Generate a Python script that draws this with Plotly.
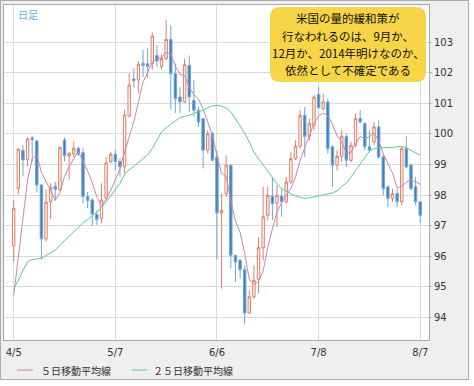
import plotly.graph_objects as go
import pandas as pd

# ---------------- data ----------------
dates = [d.strftime('%Y-%m-%d') for d in pd.bdate_range('2013-04-05', '2013-08-07')]

opens = [96.34, 98.22, 99.46, 99.17, 99.87, 99.77, 98.33, 96.57, 97.79, 98.28,
         98.17, 99.80, 99.28, 99.35, 99.53, 99.39, 97.95, 97.84, 97.37, 97.24,
         97.90, 99.10, 99.34, 99.10, 98.93, 100.59, 101.80, 101.77, 102.31, 102.30,
         102.30, 102.57, 102.21, 102.47, 103.09, 101.97, 101.21, 101.05, 102.25, 101.10,
         100.78, 100.50, 99.47, 100.01, 99.25, 97.42, 98.05, 98.98, 96.03, 95.87,
         95.56, 94.14, 94.67, 95.24, 96.28, 97.34, 97.97, 97.74, 97.97, 97.78,
         98.43, 99.19, 99.60, 100.61, 99.92, 100.28, 101.29, 100.83, 101.05, 99.58,
         98.98, 99.27, 99.92, 99.14, 99.63, 100.50, 100.34, 99.58, 99.74, 100.23,
         99.25, 98.27, 97.89, 98.05, 97.78, 99.52, 98.98, 98.27, 97.78]
highs = [97.84, 99.53, 99.64, 99.89, 99.94, 99.80, 98.36, 98.17, 98.39, 98.44,
         99.59, 99.89, 99.42, 99.75, 99.59, 99.53, 98.11, 97.90, 97.50, 98.39,
         99.24, 99.42, 99.48, 99.21, 100.79, 101.99, 102.15, 102.38, 102.75, 102.80,
         103.32, 102.90, 102.60, 103.72, 103.56, 102.30, 101.54, 102.47, 102.57, 101.76,
         100.88, 100.52, 100.12, 100.07, 99.47, 98.05, 99.30, 98.98, 96.05, 95.92,
         95.70, 94.89, 95.70, 96.63, 98.27, 98.27, 98.59, 98.32, 98.21, 98.59,
         99.41, 99.79, 100.78, 100.88, 100.50, 101.27, 101.54, 101.32, 101.16, 99.63,
         99.47, 100.12, 100.01, 99.74, 100.67, 100.78, 100.39, 100.12, 100.39, 100.45,
         99.36, 98.32, 98.21, 98.21, 99.58, 99.92, 99.03, 98.59, 97.78]
lows = [95.82, 98.04, 98.61, 98.95, 99.10, 98.09, 95.90, 96.48, 97.21, 97.84,
        98.14, 99.10, 98.50, 99.24, 99.28, 97.73, 97.57, 96.99, 97.02, 97.08,
        97.84, 99.04, 98.82, 98.60, 98.71, 100.55, 101.52, 101.33, 101.86, 101.82,
        102.10, 102.20, 102.10, 102.41, 100.80, 100.69, 100.69, 101.02, 100.72, 100.56,
        100.23, 98.87, 99.36, 99.09, 95.90, 94.94, 97.94, 95.60, 95.16, 95.27,
        93.80, 94.12, 94.61, 94.78, 95.87, 97.18, 97.18, 96.96, 97.29, 97.72,
        98.38, 99.14, 99.52, 99.25, 99.79, 100.12, 100.83, 100.78, 99.36, 98.27,
        98.81, 99.08, 98.92, 99.08, 99.58, 100.34, 99.47, 99.40, 99.63, 99.19,
        97.99, 97.61, 97.78, 97.61, 97.67, 98.87, 98.16, 97.67, 97.09]
closes = [97.57, 99.50, 99.15, 99.84, 99.82, 98.33, 96.57, 97.77, 98.25, 98.19,
          99.56, 99.29, 99.37, 99.53, 99.35, 97.95, 97.82, 97.38, 97.20, 97.84,
          99.06, 99.34, 99.10, 98.93, 100.62, 101.60, 101.75, 102.28, 102.24, 102.21,
          103.20, 102.39, 102.47, 103.09, 101.97, 101.16, 101.05, 102.27, 101.21, 100.78,
          100.39, 99.47, 100.01, 99.14, 97.42, 97.50, 98.98, 96.03, 95.81, 95.56,
          94.14, 94.67, 95.21, 96.28, 97.29, 97.99, 97.72, 97.99, 97.78, 98.43,
          99.19, 99.60, 100.61, 99.92, 100.34, 101.21, 100.86, 101.05, 99.52, 98.98,
          99.27, 99.92, 99.14, 99.63, 100.50, 100.39, 99.58, 99.47, 100.23, 99.25,
          98.21, 97.89, 98.05, 97.78, 99.52, 98.92, 98.21, 97.78, 97.34]

ma5 = [94.71, 95.97, 97.12, 98.49, 99.18, 99.33, 98.74, 98.47, 98.15, 97.82,
       98.07, 98.61, 98.93, 99.19, 99.42, 99.10, 98.80, 98.41, 97.94, 97.64,
       97.86, 98.16, 98.51, 98.85, 99.41, 99.92, 100.40, 101.04, 101.70, 102.02,
       102.34, 102.46, 102.50, 102.67, 102.62, 102.22, 101.95, 101.91, 101.53, 101.29,
       101.14, 100.82, 100.37, 99.96, 99.29, 98.71, 98.61, 97.81, 97.15, 96.78,
       96.10, 95.24, 95.08, 95.17, 95.52, 96.29, 96.90, 97.45, 97.75, 97.98,
       98.22, 98.60, 99.12, 99.55, 99.93, 100.34, 100.59, 100.68, 100.60, 100.32,
       99.94, 99.75, 99.37, 99.39, 99.69, 99.92, 99.85, 99.91, 100.03, 99.78,
       99.35, 99.01, 98.73, 98.24, 98.29, 98.43, 98.50, 98.44, 98.35]
ma25 = [94.94, 95.21, 95.54, 95.81, 95.89, 95.91, 95.93, 96.03, 96.11, 96.20,
        96.36, 96.52, 96.66, 96.80, 96.96, 97.09, 97.20, 97.31, 97.45, 97.58,
        97.78, 97.96, 98.16, 98.38, 98.68, 98.83, 98.94, 99.05, 99.19, 99.32,
        99.52, 99.79, 100.07, 100.20, 100.31, 100.43, 100.54, 100.58, 100.61, 100.67,
        100.72, 100.78, 100.86, 100.92, 100.94, 100.91, 100.85, 100.72, 100.50, 100.28,
        100.02, 99.74, 99.41, 99.19, 98.98, 98.76, 98.59, 98.38, 98.21, 98.12,
        98.05, 97.97, 97.92, 97.89, 97.91, 97.94, 97.96, 98.00, 98.03, 98.07,
        98.14, 98.27, 98.40, 98.59, 98.81, 99.03, 99.25, 99.44, 99.52, 99.55,
        99.55, 99.55, 99.56, 99.58, 99.59, 99.55, 99.47, 99.38, 99.30]

tick_dates = ['2013-04-05', '2013-05-07', '2013-06-06', '2013-07-08', '2013-08-07']
tick_labels = ['4/5', '5/7', '6/6', '7/8', '8/7']
y_ticks = [94, 95, 96, 97, 98, 99, 100, 101, 102, 103]

note_lines = ['米国の量的緩和策が', '行なわれるのは、9月か、',
              '12月か、2014年明けなのか、', '依然として不確定である']
legend_names = ['５日移動平均線', '２５日移動平均線']

# ---------------- layout helpers (pixel -> paper) ----------------
W, H = 474, 386
ML, MR, MT, MB = 4, 45, 5, 46
PW, PH = W - ML - MR, H - MT - MB


def X(px):
    return (px - ML) / PW


def Y(py):
    return 1 - (py - MT) / PH


CJK = 'Noto Sans CJK JP'
pink = '#C986B0'
green = '#5CCB8E'

fig = go.Figure()
fig.add_trace(go.Candlestick(
    x=dates, open=opens, high=highs, low=lows, close=closes,
    increasing=dict(line=dict(color='#E67D64', width=1), fillcolor='#FFF3EF'),
    decreasing=dict(line=dict(color='#6FA6D8', width=1), fillcolor='#3A7FC1'),
    whiskerwidth=0, showlegend=False, hoverinfo='skip'))
fig.add_trace(go.Scatter(x=dates, y=ma5, mode='lines', name=legend_names[0],
                         line=dict(color=pink, width=1), showlegend=False))
fig.add_trace(go.Scatter(x=dates, y=ma25, mode='lines', name=legend_names[1],
                         line=dict(color=green, width=1), showlegend=False))

shapes = [
    # outer panel
    dict(type='rect', xref='paper', yref='paper', layer='below',
         x0=X(0.5), x1=X(468.5), y0=Y(379.5), y1=Y(0.5),
         fillcolor='#EFEFEF', line=dict(color='#ABABAB', width=1)),
    # plot area
    dict(type='rect', xref='paper', yref='paper', layer='below',
         x0=0, x1=1, y0=0, y1=1, fillcolor='white', line=dict(width=0)),
]

# rounded note box
bx0, bx1, by0, by1, r = 270, 426, 7, 82, 10
path = (f"M {X(bx0 + r)},{Y(by0)} L {X(bx1 - r)},{Y(by0)} "
        f"Q {X(bx1)},{Y(by0)} {X(bx1)},{Y(by0 + r)} "
        f"L {X(bx1)},{Y(by1 - r)} Q {X(bx1)},{Y(by1)} {X(bx1 - r)},{Y(by1)} "
        f"L {X(bx0 + r)},{Y(by1)} Q {X(bx0)},{Y(by1)} {X(bx0)},{Y(by1 - r)} "
        f"L {X(bx0)},{Y(by0 + r)} Q {X(bx0)},{Y(by0)} {X(bx0 + r)},{Y(by0)} Z")
shapes.append(dict(type='path', path=path, xref='paper', yref='paper', layer='above',
                   fillcolor='#F6D548', line=dict(width=0)))

# legend line samples
shapes.append(dict(type='line', xref='paper', yref='paper', x0=X(17), x1=X(33),
                   y0=Y(370), y1=Y(370), line=dict(color=pink, width=1)))
shapes.append(dict(type='line', xref='paper', yref='paper', x0=X(132), x1=X(147),
                   y0=Y(370), y1=Y(370), line=dict(color=green, width=1)))

annotations = []
line_y = [18, 35.5, 53, 70.5]
for t, yy in zip(note_lines, line_y):
    annotations.append(dict(text=t, xref='paper', yref='paper', x=X(348), y=Y(yy),
                            xanchor='center', yanchor='middle', showarrow=False,
                            font=dict(family=CJK, size=11.5, color='#111111')))
annotations.append(dict(text='日足', xref='paper', yref='paper', x=X(16), y=Y(15),
                        xanchor='left', yanchor='middle', showarrow=False,
                        font=dict(family=CJK, size=10, color='#52B6EC')))
annotations.append(dict(text=legend_names[0], xref='paper', yref='paper', x=X(39), y=Y(370),
                        xanchor='left', yanchor='middle', showarrow=False,
                        font=dict(family=CJK, size=10, color='#333333')))
annotations.append(dict(text=legend_names[1], xref='paper', yref='paper', x=X(151), y=Y(370),
                        xanchor='left', yanchor='middle', showarrow=False,
                        font=dict(family=CJK, size=10, color='#333333')))

fig.update_layout(
    width=W, height=H,
    margin=dict(l=ML, r=MR, t=MT, b=MB, pad=0),
    paper_bgcolor='white', plot_bgcolor='white',
    showlegend=False, boxgap=0.25,
    shapes=shapes, annotations=annotations,
    xaxis=dict(type='category', range=[-2.1, 89.9], tickvals=tick_dates, ticktext=tick_labels,
               showgrid=True, gridcolor='#DADADA', gridwidth=1,
               showline=True, linecolor='#A8A8A8', linewidth=1, mirror=True,
               ticks='', ticklabelstandoff=3,
               tickfont=dict(family='DejaVu Sans', size=10, color='#333333'),
               rangeslider=dict(visible=False), fixedrange=True),
    yaxis=dict(side='right', range=[93.26, 104.22], tickvals=y_ticks,
               showgrid=True, gridcolor='#DADADA', gridwidth=1, zeroline=False,
               showline=True, linecolor='#A8A8A8', linewidth=1, mirror=True,
               ticks='outside', ticklen=2, tickcolor='#BBBBBB',
               tickfont=dict(family='DejaVu Sans', size=10, color='#333333'), fixedrange=True),
)

fig.write_html('out.html', config={'displayModeBar': False},
               post_script="document.body.style.margin='0';document.body.style.padding='0';")
